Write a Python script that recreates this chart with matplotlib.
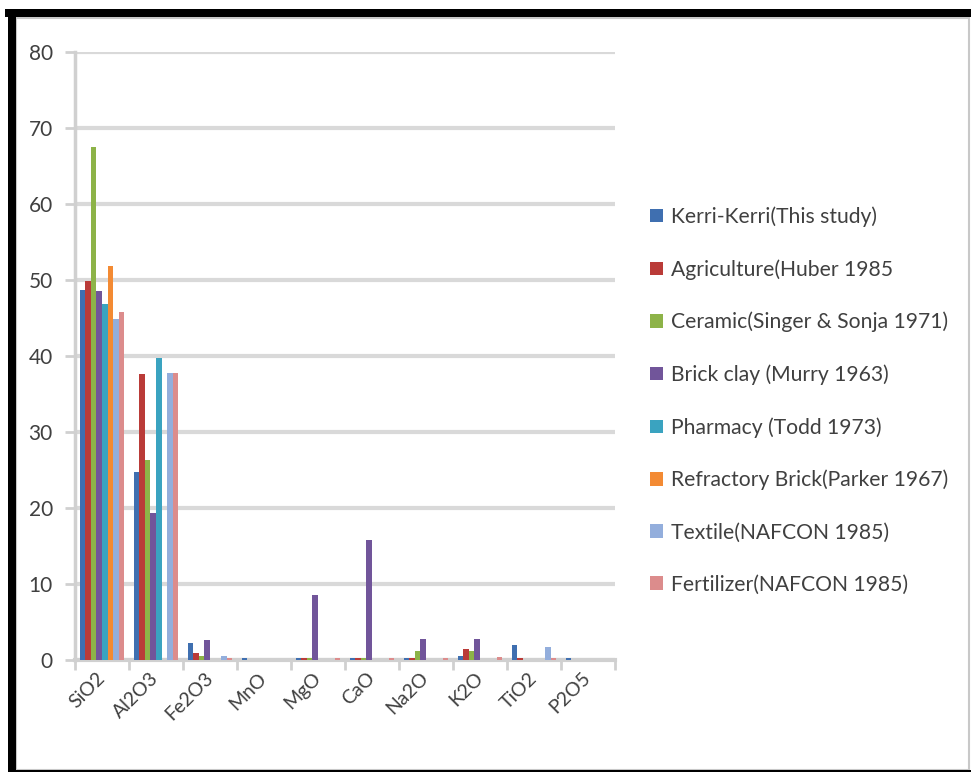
import matplotlib
matplotlib.use("Agg")
import matplotlib.pyplot as plt
import matplotlib.transforms as mtransforms
import numpy as np
from matplotlib.patches import Rectangle, Patch

plt.rcParams['font.family'] = ['Lato', 'DejaVu Sans']

oxides = ["SiO2", "Al2O3", "Fe2O3", "MnO", "MgO", "CaO", "Na2O", "K2O", "TiO2", "P2O5"]

series_names = [
    "Kerri-Kerri(This study)",
    "Agriculture(Huber 1985",
    "Ceramic(Singer & Sonja 1971)",
    "Brick clay (Murry 1963)",
    "Pharmacy (Todd 1973)",
    "Refractory Brick(Parker 1967)",
    "Textile(NAFCON 1985)",
    "Fertilizer(NAFCON 1985)",
]

kerri      = [48.7, 24.7, 2.3, 0.3, 0.3, 0.3, 0.3, 0.5, 2.0, 0.3]
agriculture = [49.9, 37.6, 0.9, 0.0, 0.3, 0.3, 0.3, 1.5, 0.3, 0.0]
ceramic    = [67.5, 26.3, 0.5, 0.0, 0.3, 0.3, 1.2, 1.2, 0.0, 0.0]
brick_clay = [48.5, 19.3, 2.6, 0.0, 8.5, 15.8, 2.8, 2.8, 0.0, 0.0]
pharmacy   = [46.8, 39.7, 0.0, 0.0, 0.0, 0.0, 0.0, 0.0, 0.0, 0.0]
refractory = [51.8, 0.0, 0.0, 0.0, 0.0, 0.0, 0.0, 0.0, 0.0, 0.0]
textile    = [44.8, 37.8, 0.5, 0.0, 0.0, 0.0, 0.0, 0.0, 1.7, 0.0]
fertilizer = [45.8, 37.8, 0.3, 0.0, 0.3, 0.2, 0.3, 0.4, 0.3, 0.0]

values = [kerri, agriculture, ceramic, brick_clay, pharmacy, refractory, textile, fertilizer]
colors = ["#3F6FB0", "#BA3B38", "#8DB348", "#71559A", "#3AA3C0", "#F38A33", "#93AEDC", "#DC8C8C"]

yticks = [0, 10, 20, 30, 40, 50, 60, 70, 80]

W, H = 971, 772
fig = plt.figure(figsize=(W / 100, H / 100), dpi=100)

# outer frame of the chart image
fig.patches.append(Rectangle((16 / W, 2 / H), (969 - 16) / W, (754 - 2) / H,
                             transform=fig.transFigure, facecolor="white",
                             edgecolor="#C8C8C8", linewidth=1.5, zorder=-2))
for (x0, y0, w, h) in [(5, H - 17, W - 5, 8), (8, 0, 8, H - 9), (8, 0, W - 8, 2.5)]:
    fig.patches.append(Rectangle((x0 / W, y0 / H), w / W, h / H,
                                 transform=fig.transFigure, facecolor="black",
                                 edgecolor="none", zorder=5))

ax = fig.add_axes([75 / W, 1 - 660 / H, (615 - 75) / W, (660 - 51.7) / H])
ax.set_zorder(1)
ax.set_facecolor("none")

n = len(values)
x = np.arange(len(oxides))
bw = 0.833 / n
for i, (vals, c) in enumerate(zip(values, colors)):
    ax.bar(x + (i - (n - 1) / 2) * bw, vals, width=bw, color=c,
           edgecolor="none", zorder=3)

ax.set_xlim(-0.5, len(oxides) - 0.5)
ax.set_ylim(0, 80)
ax.set_yticks(yticks)
ax.set_yticklabels([str(t) for t in yticks])
ax.yaxis.grid(True, color="#D9D9D9", linewidth=3, zorder=0)
ax.set_axisbelow(True)

for s in ["top", "right"]:
    ax.spines[s].set_visible(False)
ax.spines["left"].set_color("#D0D0D0")
ax.spines["left"].set_linewidth(2.5)
ax.spines["bottom"].set_color("#D0D0D0")
ax.spines["bottom"].set_linewidth(3)

ax.set_xticks(np.arange(len(oxides) + 1) - 0.5, minor=False)
ax.set_xticklabels([""] * (len(oxides) + 1))
ax.set_xticks(x, minor=True)
ax.set_xticklabels(oxides, minor=True, rotation=45, ha="right",
                   va="center", rotation_mode="anchor", fontsize=14,
                   color="#404040")
shift = mtransforms.ScaledTranslation(4 / 100, 0, fig.dpi_scale_trans)
for lab in ax.get_xticklabels(minor=True):
    lab.set_transform(lab.get_transform() + shift)
ax.tick_params(axis="x", which="major", length=7, width=2, color="#D0D0D0")
ax.tick_params(axis="x", which="minor", length=0, pad=11)
ax.tick_params(axis="y", length=7, width=2, color="#D0D0D0", pad=9,
               labelsize=15, labelcolor="#404040")

handles = [Patch(facecolor=c, edgecolor="none") for c in colors]
fig.legend(handles, series_names, loc="upper left",
           bbox_to_anchor=(642 / W, 1 - 198 / H), bbox_transform=fig.transFigure,
           frameon=False, fontsize=15.2, labelcolor="#404040",
           handlelength=0.6, handleheight=0.6, handletextpad=0.35,
           labelspacing=1.52, borderaxespad=0)

fig.savefig("out.png", dpi=100)
